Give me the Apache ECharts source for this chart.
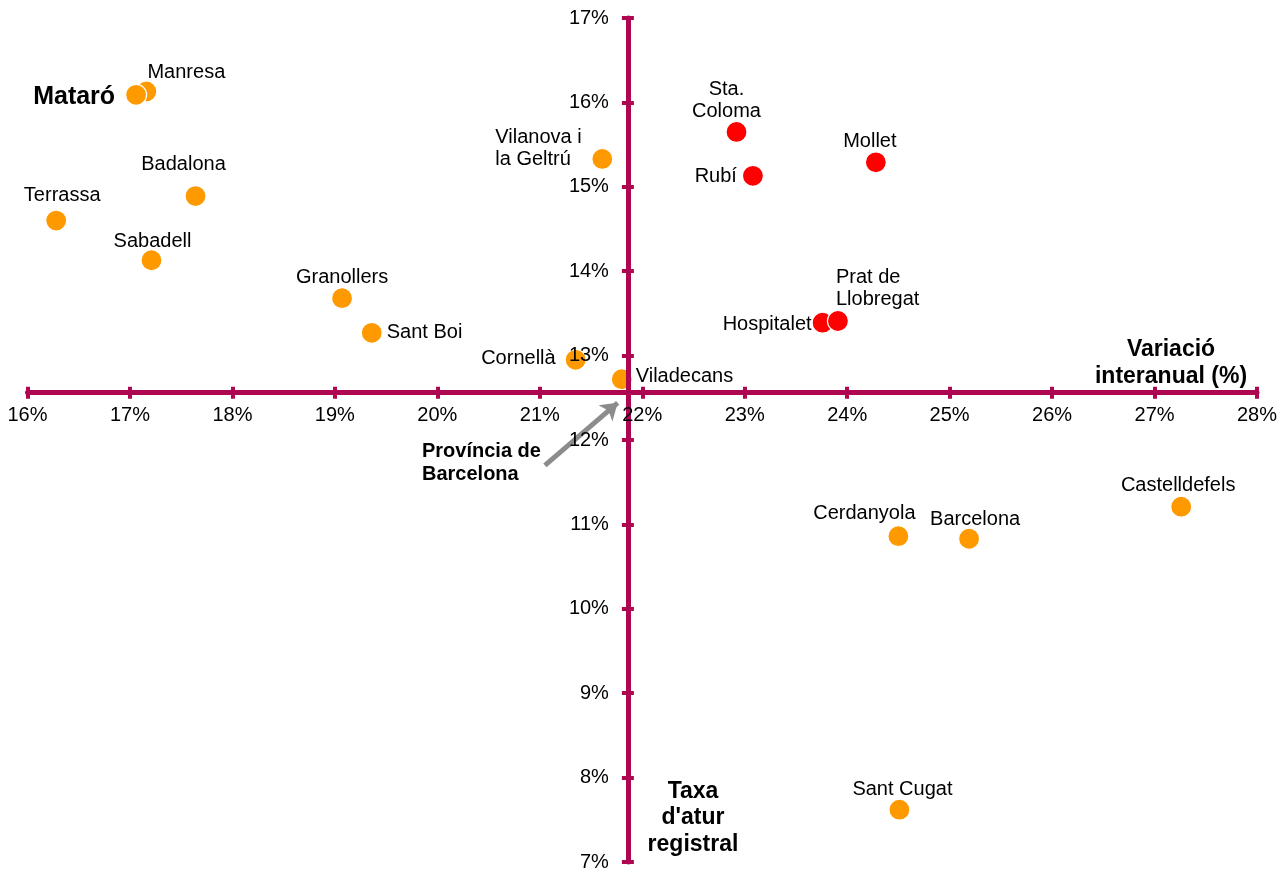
<!DOCTYPE html>
<html><head><meta charset="utf-8">
<script src="https://cdn.jsdelivr.net/npm/echarts@6/dist/echarts.min.js"></script>
<style>html,body{margin:0;padding:0;background:#fff}#c{width:1288px;height:871px}</style>
</head><body><div id="c"></div>
<script>
// ---- data ----
const names = ['Terrassa','Manresa','Mataró','Badalona','Sabadell','Granollers','Sant Boi','Cornellà','Viladecans','Vilanova i\nla Geltrú','Sta.\nColoma','Rubí','Mollet','Hospitalet','Prat de\nLlobregat','Castelldefels','Cerdanyola','Barcelona','Sant Cugat'];
const variacio = [16.28,17.16,17.06,17.64,17.21,19.07,19.36,21.35,21.80,21.61,22.92,23.08,24.28,23.76,23.91,27.26,24.50,25.19,24.51];
const taxaAtur = [14.60,16.13,16.09,14.89,14.13,13.68,13.27,12.95,12.72,15.33,15.65,15.13,15.29,13.39,13.41,11.21,10.86,10.83,7.62];
const grup = ['A','A','A','A','A','A','A','A','A','A','B','B','B','B','B','A','A','A','A'];
const provincia = [21.86, 12.56];      // Província de Barcelona: axes cross here
const xRange = [16, 28];
const yRange = [7, 17];
const arrowFrom = [21.05, 11.70];
const arrowTo = [21.76, 12.44];

// ---- styles ----
const AXIS = '#AE0650';
const FONT = "'Liberation Sans', Arial, sans-serif";
const colors = { A: '#FF9900', B: '#FF0000' };
const GRID = { left: 27.5, right: 31, top: 18, bottom: 9 };
const W = 1288, H = 871;
const labelPlace = {
  'Terrassa': [6, -25, 'center'],
  'Manresa': [40, -19, 'center'],
  'Mataró': [-21, 2, 'right'],
  'Badalona': [-12, -32, 'center'],
  'Sabadell': [1, -19, 'center'],
  'Granollers': [0, -21, 'center'],
  'Sant Boi': [15, 0, 'left'],
  'Cornellà': [-20, -1, 'right'],
  'Viladecans': [14, -3, 'left'],
  'Vilanova i\nla Geltrú': [-107, -10, 'left'],
  'Sta.\nColoma': [-10, -31, 'center'],
  'Rubí': [-16, 1, 'right'],
  'Mollet': [-6, -21, 'center'],
  'Hospitalet': [-11, 2, 'right'],
  'Prat de\nLlobregat': [-2, -33, 'left'],
  'Castelldefels': [-3, -21, 'center'],
  'Cerdanyola': [-34, -23, 'center'],
  'Barcelona': [6, -19, 'center'],
  'Sant Cugat': [3, -20, 'center']
};

// axes cross at the province values: shift each axis (in px) from the grid edge
const gridW = W - GRID.left - GRID.right, gridH = H - GRID.top - GRID.bottom;
const xAxisOffset = -(provincia[1] - yRange[0]) / (yRange[1] - yRange[0]) * gridH;
const yAxisOffset = -(provincia[0] - xRange[0]) / (xRange[1] - xRange[0]) * gridW;

const seriesData = names.map((n, i) => {
  const p = labelPlace[n];
  const lab = {
    show: true, position: ['50%', '50%'], offset: [p[0], p[1]],
    align: p[2], verticalAlign: 'middle', formatter: n,
    color: '#000', fontFamily: FONT, fontSize: 20, lineHeight: 22
  };
  if (n === 'Mataró') { lab.fontWeight = 'bold'; lab.fontSize = 25; }
  return {
    name: n,
    value: [variacio[i], taxaAtur[i]],
    itemStyle: { color: colors[grup[i]] },
    label: lab
  };
});

function xAxisCfg(inside, showLabel) {
  return {
    type: 'value', position: 'bottom', offset: xAxisOffset,
    min: xRange[0], max: xRange[1], interval: 1,
    z: 5,
    axisLine: { show: !inside, onZero: false, lineStyle: { color: AXIS, width: 5 } },
    axisTick: { show: true, inside: inside, length: 6, lineStyle: { color: AXIS, width: 4 } },
    axisLabel: { show: showLabel, margin: 13, color: '#000', fontFamily: FONT, fontSize: 20,
      formatter: v => v + '%' },
    splitLine: { show: false }
  };
}
function yAxisCfg(inside, showLabel) {
  return {
    type: 'value', position: 'left', offset: yAxisOffset,
    min: yRange[0], max: yRange[1], interval: 1,
    z: 5,
    axisLine: { show: !inside, onZero: false, lineStyle: { color: AXIS, width: 5 } },
    axisTick: { show: true, inside: inside, length: 6, lineStyle: { color: AXIS, width: 4 } },
    axisLabel: { show: showLabel, margin: 19, color: '#000', fontFamily: FONT, fontSize: 20,
      formatter: v => v + '%' },
    splitLine: { show: false }
  };
}

const chart = echarts.init(document.getElementById('c'), null, { renderer: 'canvas' });
chart.setOption({
  animation: false,
  backgroundColor: '#fff',
  grid: Object.assign({ containLabel: false, outerBoundsMode: 'none' }, GRID),
  xAxis: [xAxisCfg(false, true), xAxisCfg(true, false)],
  yAxis: [yAxisCfg(false, true), yAxisCfg(true, false)],
  series: [{
    type: 'scatter', xAxisIndex: 0, yAxisIndex: 0,
    symbol: 'circle', symbolSize: 21,
    itemStyle: { borderColor: '#fff', borderWidth: 1.2, opacity: 1 },
    emphasis: { disabled: true },
    data: seriesData,
    markLine: {
      silent: true, animation: false,
      symbol: ['none', 'arrow'], symbolSize: 16,
      label: { show: false },
      lineStyle: { color: '#8C8C8C', width: 5, type: 'solid' },
      data: [[
        { coord: arrowFrom },
        { coord: arrowTo }
      ]]
    }
  }],
  graphic: [
    { type: 'text', silent: true, style: { text: 'Província de\nBarcelona', x: 422, y: 463, textAlign: 'left', textVerticalAlign: 'middle', font: 'bold 20px ' + FONT, lineHeight: 23.5, fill: '#000' } },
    { type: 'text', silent: true, style: { text: 'Variació\ninteranual (%)', x: 1171, y: 363, textAlign: 'center', textVerticalAlign: 'middle', font: 'bold 23px ' + FONT, lineHeight: 26.5, fill: '#000' } },
    { type: 'text', silent: true, style: { text: "Taxa\nd'atur\nregistral", x: 693, y: 818, textAlign: 'center', textVerticalAlign: 'middle', font: 'bold 23px ' + FONT, lineHeight: 26.7, fill: '#000' } }
  ]
});
</script>
</body></html>
